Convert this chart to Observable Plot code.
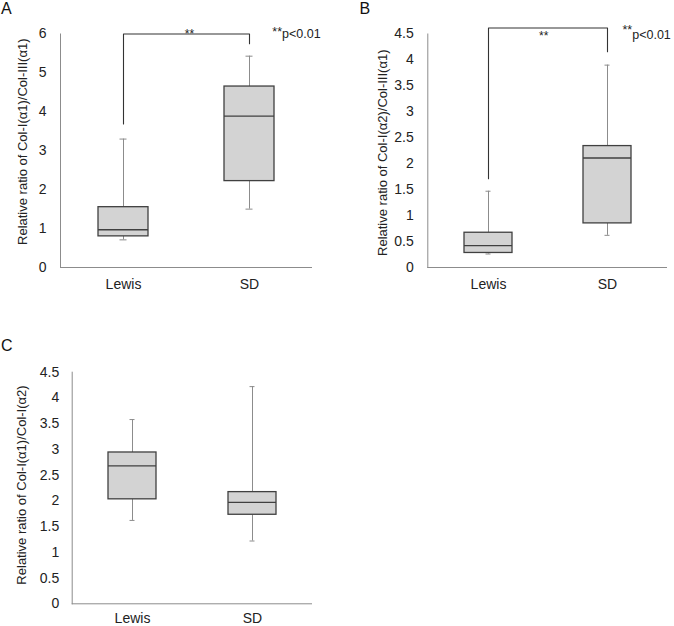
<!DOCTYPE html>
<html><head><meta charset="utf-8">
<script src="https://cdn.jsdelivr.net/npm/d3@7"></script>
<script src="https://cdn.jsdelivr.net/npm/@observablehq/plot@0.6"></script>
<style>
body{margin:0;background:#fff;font-family:"Liberation Sans",Arial,sans-serif;}
#wrap{position:relative;width:674px;height:626px;overflow:hidden;background:#fff;}
.panel{position:absolute;}
.lbl{position:absolute;font-size:16px;line-height:1;color:#111;}
.pv{position:absolute;font-size:12.5px;line-height:1;color:#222;white-space:nowrap;}
.pv span{position:relative;}
</style></head><body><div id="wrap"></div>
<script>
// ---- data ----
const groups = ["Lewis", "SD"];

// Panel A: Col-I(α1)/Col-III(α1)
const aLow  = [0.71, 1.50];
const aQ1   = [0.80, 2.22];
const aMed  = [0.97, 3.89];
const aQ3   = [1.55, 4.65];
const aHigh = [3.30, 5.43];
const aTicks = [0, 1, 2, 3, 4, 5, 6];
const aBracket = [3.69, 6.0, 5.75];   // Lewis end, top, SD end
const aTitle = "Relative ratio of Col-I(α1)/Col-III(α1)";

// Panel B: Col-I(α2)/Col-III(α1)
const bLow  = [0.26, 0.62];
const bQ1   = [0.28, 0.85];
const bMed  = [0.42, 2.11];
const bQ3   = [0.67, 2.34];
const bHigh = [1.47, 3.90];
const bTicks = [0, 0.5, 1, 1.5, 2, 2.5, 3, 3.5, 4, 4.5];
const bBracket = [1.71, 4.615, 4.16];
const bTitle = "Relative ratio of Col-I(α2)/Col-III(α1)";

// Panel C: Col-I(α1)/Col-I(α2)
const cLow  = [1.62, 1.22];
const cQ1   = [2.03, 1.73];
const cMed  = [2.68, 1.97];
const cQ3   = [2.94, 2.17];
const cHigh = [3.58, 4.22];
const cTicks = [0, 0.5, 1, 1.5, 2, 2.5, 3, 3.5, 4, 4.5];
const cTitle = "Relative ratio of Col-I(α1)/Col-I(α2)";

const sigLabel = "**";
const pLabel = "p<0.01";

// ---- drawing ----
const WHISK = "#8c8c8c", BOX = "#404040", FILL = "#d3d3d3", AXIS = "#8c8c8c", TXT = "#222";

function panel(cfg) {
  const rows = groups.map((g, i) => ({g, low: cfg.low[i], q1: cfg.q1[i], med: cfg.med[i], q3: cfg.q3[i], high: cfg.high[i]}));
  const marks = [
    Plot.ruleY([0], {stroke: AXIS}),
    Plot.frame({anchor: "left", stroke: AXIS}),
    Plot.axisY({ticks: cfg.ticks, tickSize: 0, tickPadding: cfg.tickPad, tickFormat: d => String(d), label: null, fill: TXT}),
    Plot.axisX({tickSize: 0, tickPadding: cfg.xPad, label: null, fill: TXT}),
    Plot.ruleX(rows, {x: "g", y1: "q3", y2: "high", stroke: WHISK}),
    Plot.ruleX(rows, {x: "g", y1: "low", y2: "q1", stroke: WHISK}),
    Plot.tickY(rows, {x: "g", y: "high", stroke: WHISK, insetLeft: 21.5, insetRight: 21.5}),
    Plot.tickY(rows, {x: "g", y: "low", stroke: WHISK, insetLeft: 21.5, insetRight: 21.5}),
    Plot.barY(rows, {x: "g", y1: "q1", y2: "q3", fill: FILL, stroke: BOX, strokeWidth: 1.3}),
    Plot.tickY(rows, {x: "g", y: "med", stroke: BOX, strokeWidth: 1.3}),
    Plot.text([cfg.title], {frameAnchor: "left", textAnchor: "middle", rotate: -90, dx: -cfg.titleOffset, dy: cfg.titleDy, fontSize: 13, fill: TXT})
  ];
  if (cfg.bracket) {
    const b = cfg.bracket;
    const br = [{g: groups[0], v: b[0]}, {g: groups[0], v: b[1]}, {g: groups[1], v: b[1]}, {g: groups[1], v: b[2]}];
    marks.push(Plot.line(br, {x: "g", y: "v", stroke: "#333", strokeWidth: 1.1}));
    marks.push(Plot.text([{v: cfg.sigY}], {y: "v", text: () => sigLabel, dx: cfg.sigDx, dy: cfg.sigDy, fontSize: 12, fill: TXT}));
  }
  return Plot.plot({
    width: cfg.width, height: cfg.height,
    marginLeft: cfg.ml, marginRight: cfg.mr, marginTop: cfg.mt, marginBottom: cfg.mb,
    style: {fontFamily: "Liberation Sans, Arial, sans-serif", fontSize: "14px", color: TXT, background: "transparent", overflow: "visible"},
    x: {type: "band", domain: groups, paddingInner: 0.6, paddingOuter: 0.3},
    y: {domain: [0, cfg.ticks[cfg.ticks.length - 1]]},
    marks
  });
}

const wrap = document.getElementById("wrap");
function place(node, left, top) {
  const d = document.createElement("div");
  d.className = "panel"; d.style.left = left + "px"; d.style.top = top + "px";
  d.appendChild(node); wrap.appendChild(d);
}

place(panel({low: aLow, q1: aQ1, med: aMed, q3: aQ3, high: aHigh, ticks: aTicks, title: aTitle,
  width: 337, height: 300, ml: 60, mr: 25, mt: 33.5, mb: 33, tickPad: 14, xPad: 12, titleOffset: 38, titleDy: -9,
  bracket: aBracket, sigY: 6, sigDx: 3, sigDy: 0}), 0, 0);

place(panel({low: bLow, q1: bQ1, med: bMed, q3: bQ3, high: bHigh, ticks: bTicks, title: bTitle,
  width: 337, height: 300, ml: 90.3, mr: 7, mt: 33.5, mb: 33, tickPad: 14, xPad: 12, titleOffset: 45, titleDy: 2,
  bracket: bBracket, sigY: 4.5, sigDx: -4, sigDy: 2}), 337, 0);

place(panel({low: cLow, q1: cQ1, med: cMed, q3: cQ3, high: cHigh, ticks: cTicks, title: cTitle,
  width: 337, height: 306, ml: 71.7, mr: 25, mt: 51.7, mb: 22.7, tickPad: 13, xPad: 9, titleOffset: 50, titleDy: -3}), 0, 320);

function html(cls, text, left, top) {
  const d = document.createElement("div");
  d.className = cls; d.style.left = left + "px"; d.style.top = top + "px";
  if (typeof text === "string") d.textContent = text; else d.appendChild(text);
  wrap.appendChild(d);
}
html("lbl", "A", 1, 0.6);
html("lbl", "B", 359.5, 0.6);
html("lbl", "C", 1, 338);

function pv(left, top, raise) {
  const d = document.createElement("div");
  d.className = "pv"; d.style.left = left + "px"; d.style.top = top + "px";
  const s = document.createElement("span"); s.textContent = sigLabel; s.style.top = (-raise) + "px";
  d.appendChild(s); d.appendChild(document.createTextNode(pLabel));
  wrap.appendChild(d);
}
pv(272.3, 28.4, 2);
pv(622.5, 29.4, 5);
</script>
</body></html>
